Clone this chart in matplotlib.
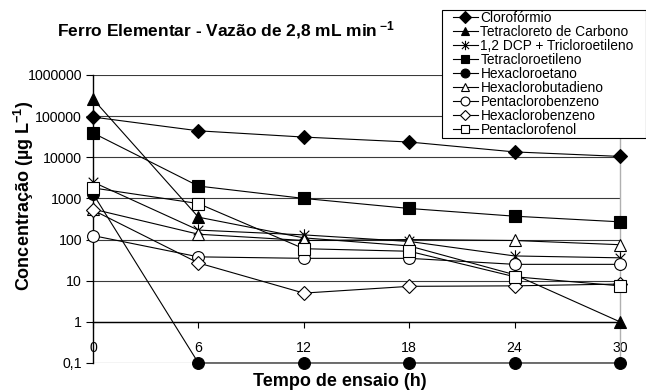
import matplotlib
matplotlib.use("Agg")
import matplotlib.pyplot as plt
from matplotlib.path import Path
from matplotlib.patches import Rectangle
from matplotlib.ticker import FixedLocator, FixedFormatter, NullLocator

plt.rcParams['font.family'] = ['Liberation Sans', 'DejaVu Sans']
plt.rcParams['mathtext.default'] = 'regular'

# ---- data ----
tempo = [0, 6, 12, 18, 24, 30]
cloroformio = [95000, 44000, 31000, 23500, 13500, 10500]
tetracloreto_carbono = [260000, 350, 110, 70, 14, 1]
dcp_tricloroetileno = [2500, 170, 130, 90, 40, 36]
tetracloroetileno = [39000, 2000, 1000, 570, 370, 270]
hexacloroetano = [1300, 0.1, 0.1, 0.1, 0.1, 0.1]
hexaclorobutadieno = [550, 135, 95, 100, 95, 75]
pentaclorobenzeno = [125, 38, 35, 35, 25, 25]
hexaclorobenzeno = [520, 27, 5, 7.3, 7.5, 8.3]
pentaclorofenol = [1800, 750, 60, 52, 12.5, 7.5]

series_labels = ["Clorofórmio", "Tetracloreto de Carbono", "1,2 DCP + Tricloroetileno",
                 "Tetracloroetileno", "Hexacloroetano", "Hexaclorobutadieno",
                 "Pentaclorobenzeno", "Hexaclorobenzeno", "Pentaclorofenol"]
y_ticks = [0.1, 1, 10, 100, 1000, 10000, 100000, 1000000]
y_tick_labels = ["0,1", "1", "10", "100", "1000", "10000", "100000", "1000000"]
x_ticks = [0, 6, 12, 18, 24, 30]

star = Path([(-1, -1), (1, 1), (-1, 1), (1, -1), (0, -1.3), (0, 1.3)],
            [Path.MOVETO, Path.LINETO, Path.MOVETO, Path.LINETO, Path.MOVETO, Path.LINETO])

styles = [
    dict(marker='D', ms=7.5, mfc='black'),
    dict(marker='^', ms=8.5, mfc='black'),
    dict(marker=star, ms=9, mfc='none'),
    dict(marker='s', ms=8, mfc='black'),
    dict(marker='o', ms=8.5, mfc='black'),
    dict(marker='^', ms=8.5, mfc='white'),
    dict(marker='o', ms=8.5, mfc='white'),
    dict(marker='D', ms=7, mfc='white'),
    dict(marker='s', ms=8, mfc='white'),
]
data = [cloroformio, tetracloreto_carbono, dcp_tricloroetileno, tetracloroetileno,
        hexacloroetano, hexaclorobutadieno, pentaclorobenzeno, hexaclorobenzeno,
        pentaclorofenol]

W, H = 646, 391
fig = plt.figure(figsize=(W/100, H/100), dpi=100)
ax = fig.add_axes([93/W, 1-363/H, (620-93)/W, (363-75)/H])
ax.set_yscale('log')
ax.set_xlim(0, 30)
ax.set_ylim(0.1, 1e6)

for y in y_ticks:
    ax.axhline(y, color='#3a3a3a', lw=0.8, zorder=1)

handles = []
for vals, lab, st in zip(data, series_labels, styles):
    h, = ax.plot(tempo, vals, color='black', lw=0.8, mec='black', mew=0.8,
                 label=lab, zorder=3, clip_on=False, **st)
    handles.append(h)

ax.spines['top'].set_visible(False)
ax.spines['right'].set_color('#b0b0b0')
ax.spines['right'].set_linewidth(1.0)
ax.spines['left'].set_linewidth(1.0)
ax.spines['bottom'].set_position(('data', 1))
ax.spines['bottom'].set_linewidth(1.0)

ax.yaxis.set_major_locator(FixedLocator(y_ticks))
ax.yaxis.set_major_formatter(FixedFormatter(y_tick_labels))
ax.yaxis.set_minor_locator(NullLocator())
ax.set_xticks(x_ticks)
ax.set_xticklabels([str(v) for v in x_ticks])
ax.tick_params(axis='y', direction='out', length=5, width=0.8, pad=3, labelsize=10.2)
ax.tick_params(axis='x', direction='out', length=4, width=0.8, pad=10, labelsize=10.2)

fig.text(226/W, 1-30/H, "Ferro Elementar - Vazão de 2,8 mL min$\\,^{-1}$", ha='center', va='center',
         fontsize=12.5, fontweight='bold')
fig.text(24/W, 1-196/H, "Concentração (µg L$^{-1}$)", rotation=90, ha='center', va='center',
         fontsize=13, fontweight='bold')
fig.text(340/W, 1-382/H, "Tempo de ensaio (h)", ha='center', va='center',
         fontsize=13, fontweight='bold')

# legend box
fig.patches.append(Rectangle((442/W, 1-138/H), (645.5-442)/W, (138-10)/H,
                             transform=fig.transFigure, fill=True, facecolor='white',
                             edgecolor='black', lw=0.8, zorder=5))
leg = fig.legend(handles=handles, loc='upper left', bbox_to_anchor=(453/W, 1-10.5/H),
                 fontsize=9.9, frameon=False,
                 labelspacing=0.0, handlelength=1.8, handletextpad=0.2,
                 borderpad=0.0, borderaxespad=0, markerscale=0.75)
leg.set_zorder(6)

fig.savefig("out.png", dpi=100)
